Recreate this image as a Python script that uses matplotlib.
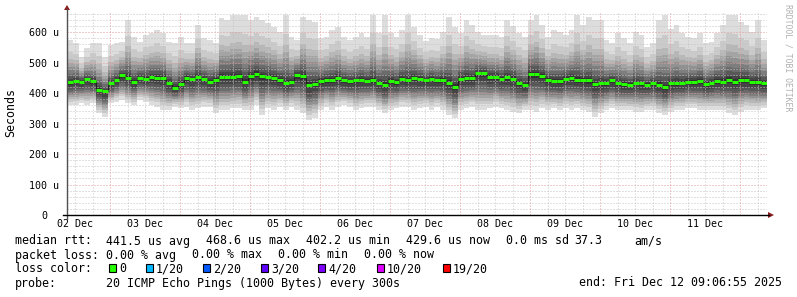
import numpy as np
import pandas as pd
import matplotlib
matplotlib.use("Agg")
import matplotlib.pyplot as plt
import matplotlib.dates as mdates
from matplotlib.patches import Rectangle, Polygon
from matplotlib.lines import Line2D

# smokeping style latency graph, 10 days, values in microseconds (2h steps)
START = "2025-12-02 09:06:55"
END = "2025-12-12 09:06:55"

median_us = [
    436, 440, 437, 446, 439, 412, 406, 432, 443, 459, 451, 438, 449, 447, 453,
    450, 451, 435, 418, 431, 451, 446, 454, 446, 438, 445, 454, 454, 454, 456,
    438, 456, 464, 456, 454, 451, 443, 435, 438, 459, 456, 427, 430, 440, 443,
    445, 449, 442, 439, 442, 445, 441, 443, 435, 426, 441, 436, 447, 443, 449,
    446, 442, 447, 442, 444, 435, 421, 448, 450, 449, 465, 465, 454, 454, 447,
    452, 448, 435, 426, 463, 463, 456, 444, 441, 440, 447, 450, 444, 442, 442,
    430, 432, 434, 442, 432, 430, 427, 435, 432, 427, 433, 427, 419, 432, 434,
    435, 438, 437, 440, 430, 435, 441, 438, 444, 438, 443, 443, 437, 436, 433,
]
smoke_top_us = [
    575, 564, 520, 547, 566, 564, 520, 558, 564, 569, 640, 586, 569, 591, 597,
    608, 597, 569, 564, 586, 564, 566, 624, 580, 575, 564, 646, 640, 657, 657,
    657, 640, 651, 640, 629, 616, 600, 657, 586, 575, 651, 640, 635, 580, 586,
    608, 618, 586, 575, 586, 597, 586, 657, 597, 657, 597, 586, 608, 657, 618,
    590, 570, 580, 578, 600, 651, 618, 597, 640, 624, 600, 591, 590, 591, 586,
    640, 620, 597, 586, 640, 657, 624, 586, 608, 602, 591, 608, 657, 624, 651,
    640, 640, 575, 564, 597, 580, 564, 600, 590, 553, 564, 640, 657, 610, 624,
    597, 586, 580, 597, 564, 569, 597, 624, 657, 657, 635, 624, 600, 640, 575,
]
smoke_bot_us = [
    361, 361, 367, 361, 367, 334, 323, 367, 372, 378, 367, 361, 378, 372, 361,
    356, 345, 345, 356, 350, 356, 345, 350, 356, 356, 334, 345, 345, 350, 350,
    345, 345, 361, 328, 350, 345, 356, 345, 356, 345, 334, 312, 320, 345, 356,
    345, 356, 361, 356, 345, 350, 356, 356, 345, 334, 345, 350, 356, 356, 345,
    350, 356, 345, 356, 345, 330, 317, 345, 350, 356, 345, 345, 350, 356, 350,
    345, 339, 334, 345, 345, 339, 350, 345, 350, 345, 350, 345, 350, 345, 339,
    323, 334, 345, 350, 345, 345, 345, 339, 339, 345, 345, 334, 328, 339, 345,
    345, 350, 350, 345, 345, 345, 345, 345, 334, 328, 339, 345, 345, 345, 350,
]

# how far each of the 10 smoke layers reaches towards max / min
upper_frac = [1.0, 0.72, 0.55, 0.45, 0.36, 0.28, 0.20, 0.14, 0.08, 0.04]
lower_frac = [1.0, 0.85, 0.75, 0.66, 0.58, 0.50, 0.42, 0.33, 0.22, 0.10]

y_ticks = [0, 100, 200, 300, 400, 500, 600]
y_tick_labels = ["0", "100 u", "200 u", "300 u", "400 u", "500 u", "600 u"]
day_labels = ["02 Dec", "03 Dec", "04 Dec", "05 Dec", "06 Dec",
              "07 Dec", "08 Dec", "09 Dec", "10 Dec", "11 Dec"]

rtt_stats = ["441.5 us avg", "468.6 us max", "402.2 us min", "429.6 us now",
             "0.0 ms sd", "37.3", "am/s"]
loss_stats = ["0.00 % avg", "0.00 % max", "0.00 % min", "0.00 % now"]
loss_labels = ["0", "1/20", "2/20", "3/20", "4/20", "10/20", "19/20"]
loss_colors = ["#26ff00", "#00b8ff", "#0059ff", "#5e00ff", "#7e00ff",
               "#dd00ff", "#ff0000"]
probe_text = "20 ICMP Echo Pings (1000 Bytes) every 300s"
end_text = "end: Fri Dec 12 09:06:55 2025"

W, H = 797, 297
FS = 8.4
TICK_FS = 7.2
plt.rcParams["font.family"] = "DejaVu Sans Mono"


def fx(x):
    return x / W


def fy(y):
    return 1 - y / H


fig = plt.figure(figsize=(W / 100, H / 100), dpi=100)
fig.patch.set_facecolor("white")
ax = fig.add_axes([fx(67), fy(215), 700 / W, 204 / H])

t = pd.date_range(START, periods=len(median_us) + 1, freq="2h")
x = mdates.date2num(t.to_pydatetime())
med = np.array(median_us + median_us[-1:], dtype=float)
top = np.array(smoke_top_us + smoke_top_us[-1:], dtype=float)
bot = np.array(smoke_bot_us + smoke_bot_us[-1:], dtype=float)

# smoke, outer (light) to inner (dark)
for k in range(10):
    shade = int(190 / 10 * (9 - k)) + 50
    col = "#%02x%02x%02x" % (shade, shade, shade)
    hi = med + (top - med) * upper_frac[k]
    lo = med - (med - bot) * lower_frac[k]
    ax.fill_between(x, lo, hi, step="post", color=col, lw=0, zorder=1)

# grid over the smoke
for v in range(20, 661, 20):
    c = "#e59a9a" if v % 100 == 0 else "#c4c4c4"
    ax.axhline(v, color=c, lw=0.72, ls=(0, (1, 2)), zorder=2)
t0 = pd.Timestamp(START)
t1 = pd.Timestamp(END)
for g in pd.date_range(t0.ceil("6h"), t1, freq="6h"):
    c = "#e59a9a" if g.hour == 0 else "#c4c4c4"
    ax.axvline(mdates.date2num(g.to_pydatetime()), color=c, lw=0.72,
               ls=(0, (1, 2)), zorder=2)

# median line
ax.step(x, med, where="post", color="#202020", lw=0.72, zorder=3)
ax.hlines(median_us, x[:-1], x[1:], color=loss_colors[0], lw=2.16, zorder=4)

ax.set_xlim(mdates.date2num(t0.to_pydatetime()),
            mdates.date2num(t1.to_pydatetime()))
ax.set_ylim(0, 670)
for s in ax.spines.values():
    s.set_visible(False)

ax.set_yticks(y_ticks)
ax.set_yticklabels(y_tick_labels, fontsize=TICK_FS)
ax.tick_params(axis="y", length=0, pad=16.5)
for lbl in ax.get_yticklabels():
    lbl.set_ha("center")

noons = pd.date_range(t0.normalize() + pd.Timedelta(hours=12),
                      periods=len(day_labels), freq="D")
ax.set_xticks(mdates.date2num(noons.to_pydatetime()))
ax.set_xticklabels(day_labels, fontsize=TICK_FS)
ax.tick_params(axis="x", length=0, pad=3)

# axes lines and arrows
axis_red = "#8b1a1a"
fig.add_artist(Line2D([fx(67), fx(67)], [fy(219), fy(9)], color="#505050", lw=1.0))
fig.add_artist(Line2D([fx(63), fx(769)], [fy(215), fy(215)], color="black", lw=1.0))
fig.add_artist(Polygon([[fx(64), fy(10)], [fx(70), fy(10)], [fx(67), fy(5)]],
                       closed=True, color=axis_red, lw=0))
fig.add_artist(Polygon([[fx(768), fy(212)], [fx(768), fy(218)], [fx(774), fy(215)]],
                       closed=True, color=axis_red, lw=0))

fig.text(fx(11), fy(113), "Seconds", rotation=90, ha="center", va="center", fontsize=FS)
fig.text(fx(788), fy(4), "RRDTOOL / TOBI OETIKER", rotation=270, ha="center",
         va="top", fontsize=5.9, color="#b0b0b0")

# legend block
row_y = [241, 255, 269, 283]
fig.text(fx(15), fy(row_y[0]), "median rtt:", ha="left", va="center", fontsize=FS)
for s, px in zip(rtt_stats, [106, 206, 306, 406, 506, 574, 634]):
    fig.text(fx(px), fy(row_y[0]), s, ha="left", va="center", fontsize=FS)

fig.text(fx(15), fy(row_y[1]), "packet loss:", ha="left", va="center", fontsize=FS)
for s, px in zip(loss_stats, [106, 192, 278, 364]):
    fig.text(fx(px), fy(row_y[1]), s, ha="left", va="center", fontsize=FS)

fig.text(fx(15), fy(row_y[2]), "loss color:", ha="left", va="center", fontsize=FS)
for lab, col, px in zip(loss_labels, loss_colors, [109, 146, 203, 261, 318, 377, 443]):
    fig.add_artist(Rectangle((fx(px), fy(272)), 7 / W, 8 / H, facecolor=col,
                             edgecolor="black", lw=0.8, transform=fig.transFigure))
    fig.text(fx(px + 10), fy(row_y[2]), lab, ha="left", va="center", fontsize=FS)

fig.text(fx(15), fy(row_y[3]), "probe:", ha="left", va="center", fontsize=FS)
fig.text(fx(106), fy(row_y[3]), probe_text, ha="left", va="center", fontsize=FS)
fig.text(fx(782), fy(row_y[3]), end_text, ha="right", va="center", fontsize=FS)

fig.savefig("out.png", dpi=100, facecolor="white")
